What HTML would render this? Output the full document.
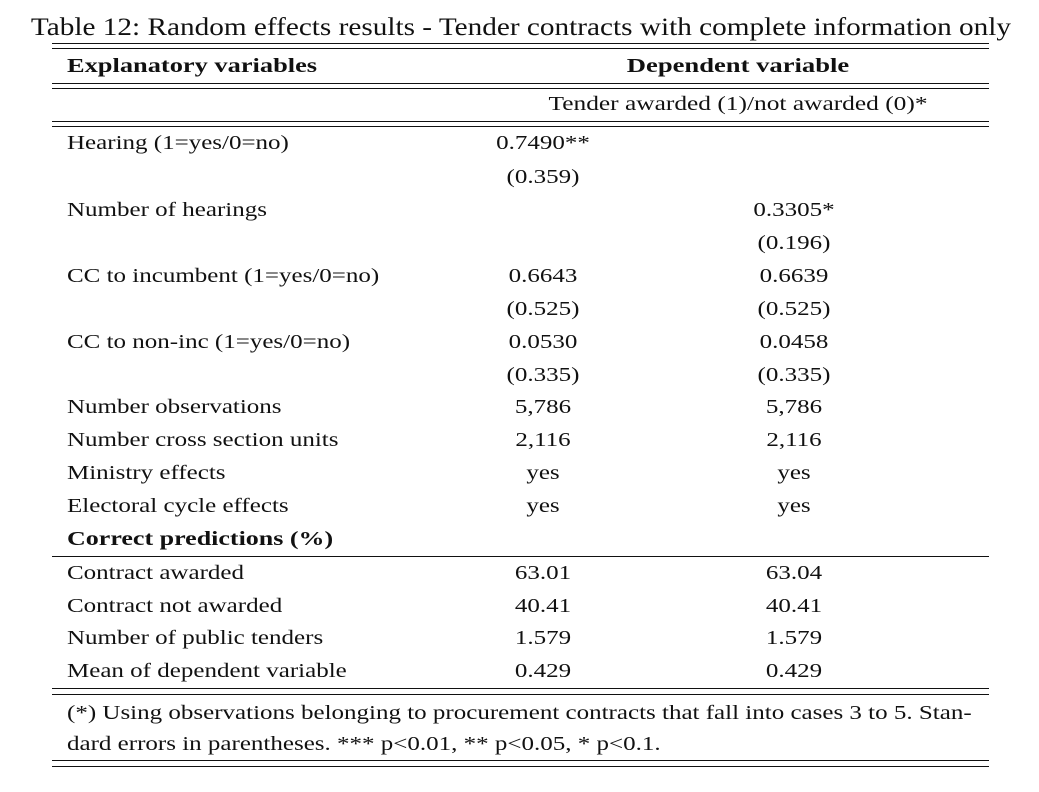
<!DOCTYPE html>
<html><head><style>
body{margin:0;width:1039px;height:792px;background:#fff;position:relative;font-family:"Liberation Serif",serif;color:#111;overflow:hidden}
.t{position:absolute;font-size:20px;line-height:24px;white-space:nowrap}
.l{left:67px;transform:scaleX(1.25);transform-origin:0 0}
.c1{left:543px;transform:translateX(-50%) scaleX(1.25)}
.c2{left:794px;transform:translateX(-50%) scaleX(1.25)}
.h{position:absolute;left:52px;width:937px;height:1.3px;background:#111}
b{font-weight:bold}
</style></head><body>
<div class="t" style="left:521px;top:14px;transform:translateX(-50%) scaleX(1.17);font-size:25px;line-height:28px">Table 12: Random effects results - Tender contracts with complete information only</div>
<div class="h" style="top:43px"></div><div class="h" style="top:48px"></div>
<div class="t" style="left:67px;top:54px;transform:scaleX(1.32);transform-origin:0 0"><b>Explanatory variables</b></div>
<div class="t" style="left:738px;top:54px;transform:translateX(-50%) scaleX(1.33)"><b>Dependent variable</b></div>
<div class="h" style="top:83px"></div><div class="h" style="top:88px"></div>
<div class="t" style="left:738px;top:92px;transform:translateX(-50%) scaleX(1.27)">Tender awarded (1)/not awarded (0)*</div>
<div class="h" style="top:121px"></div><div class="h" style="top:126px"></div>

<div class="t l" style="top:131px">Hearing (1=yes/0=no)</div><div class="t c1" style="top:131px">0.7490**</div>
<div class="t c1" style="top:165px">(0.359)</div>
<div class="t l" style="top:198px">Number of hearings</div><div class="t c2" style="top:198px">0.3305*</div>
<div class="t c2" style="top:231px">(0.196)</div>
<div class="t l" style="top:264px">CC to incumbent (1=yes/0=no)</div><div class="t c1" style="top:264px">0.6643</div><div class="t c2" style="top:264px">0.6639</div>
<div class="t c1" style="top:297px">(0.525)</div><div class="t c2" style="top:297px">(0.525)</div>
<div class="t l" style="top:330px">CC to non-inc (1=yes/0=no)</div><div class="t c1" style="top:330px">0.0530</div><div class="t c2" style="top:330px">0.0458</div>
<div class="t c1" style="top:363px">(0.335)</div><div class="t c2" style="top:363px">(0.335)</div>
<div class="t l" style="top:395px">Number observations</div><div class="t c1" style="top:395px">5,786</div><div class="t c2" style="top:395px">5,786</div>
<div class="t l" style="top:428px">Number cross section units</div><div class="t c1" style="top:428px">2,116</div><div class="t c2" style="top:428px">2,116</div>
<div class="t l" style="top:461px">Ministry effects</div><div class="t c1" style="top:461px">yes</div><div class="t c2" style="top:461px">yes</div>
<div class="t l" style="top:494px">Electoral cycle effects</div><div class="t c1" style="top:494px">yes</div><div class="t c2" style="top:494px">yes</div>
<div class="t" style="left:67px;top:527px;transform:scaleX(1.3);transform-origin:0 0"><b>Correct predictions (%)</b></div>
<div class="h" style="top:556px"></div>
<div class="t l" style="top:561px">Contract awarded</div><div class="t c1" style="top:561px">63.01</div><div class="t c2" style="top:561px">63.04</div>
<div class="t l" style="top:594px">Contract not awarded</div><div class="t c1" style="top:594px">40.41</div><div class="t c2" style="top:594px">40.41</div>
<div class="t l" style="top:626px">Number of public tenders</div><div class="t c1" style="top:626px">1.579</div><div class="t c2" style="top:626px">1.579</div>
<div class="t l" style="top:659px">Mean of dependent variable</div><div class="t c1" style="top:659px">0.429</div><div class="t c2" style="top:659px">0.429</div>
<div class="h" style="top:688px"></div><div class="h" style="top:694px"></div>
<div class="t l" style="top:701px">(*) Using observations belonging to procurement contracts that fall into cases 3 to 5. Stan-</div>
<div class="t l" style="top:732px">dard errors in parentheses. *** p&lt;0.01, ** p&lt;0.05, * p&lt;0.1.</div>
<div class="h" style="top:760px"></div><div class="h" style="top:766px"></div>
</body></html>
